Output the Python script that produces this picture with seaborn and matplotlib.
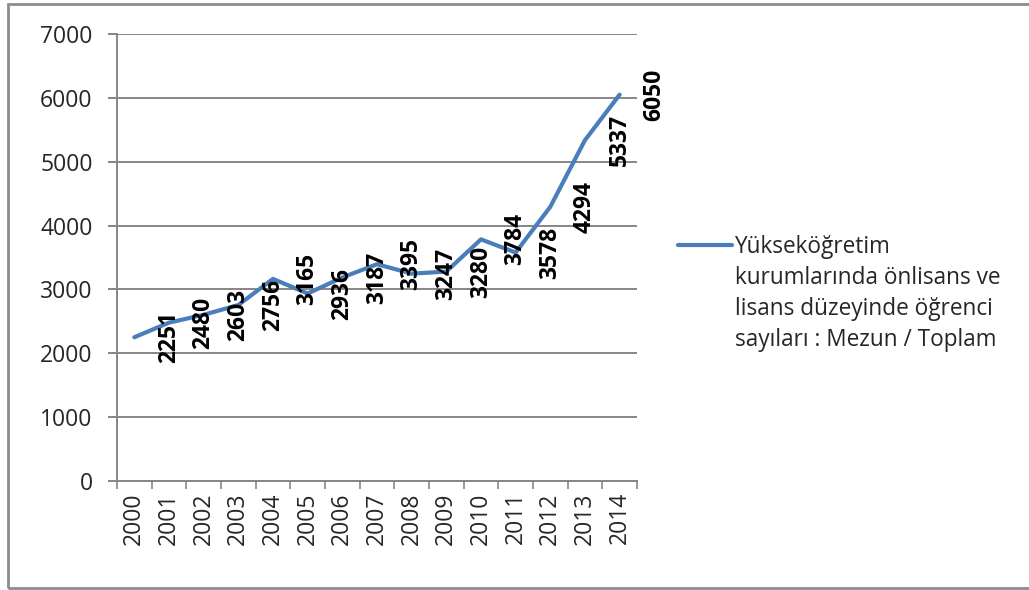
import pandas as pd
import seaborn as sns
import matplotlib.pyplot as plt
from matplotlib.patches import Rectangle

years = ['2000', '2001', '2002', '2003', '2004', '2005', '2006', '2007',
         '2008', '2009', '2010', '2011', '2012', '2013', '2014']
values = [2251, 2480, 2603, 2756, 3165, 2936, 3187, 3395,
          3247, 3280, 3784, 3578, 4294, 5337, 6050]
series_name = 'Yükseköğretim\nkurumlarında önlisans ve\nlisans düzeyinde öğrenci\nsayıları : Mezun / Toplam'
y_ticks = [0, 1000, 2000, 3000, 4000, 5000, 6000, 7000]

df = pd.DataFrame({'year': years, 'value': values})

sns.set_style('white')
plt.rcParams['font.family'] = ['Open Sans', 'DejaVu Sans']

fig = plt.figure(figsize=(10.29, 5.90), dpi=100)
ax = fig.add_axes([0.1137, 0.1847, 0.5053, 0.7577])

# cerceve
fig.patches.append(Rectangle((0.008, 0.003), 1.2, 0.99, transform=fig.transFigure,
                             fill=False, edgecolor='#8c8c8c', lw=2))

blue = '#4a7ebb'
sns.lineplot(data=df, x='year', y='value', ax=ax, color=blue, lw=3, sort=False,
             label=series_name)

# etiketler bir kategori saga kayik (orijinaldeki gibi)
for i, v in enumerate(values):
    ax.annotate(str(v), xy=(i + 1, v), rotation=90, ha='center', va='center',
                fontsize=16.5, fontweight='bold', color='black', annotation_clip=False)

ax.set_xlim(-0.5, len(years) - 0.5)
ax.set_ylim(0, 7000)
ax.set_yticks(y_ticks)
ax.set_xticks(range(len(years)))
ax.set_xticklabels(years, rotation=90)
ax.set_xticks([k - 0.5 for k in range(len(years) + 1)], minor=True)
ax.set_xlabel('')
ax.set_ylabel('')

ax.grid(axis='y', color='#868686', lw=1.4)
ax.set_axisbelow(True)
for s in ['top', 'right']:
    ax.spines[s].set_visible(False)
for s in ['left', 'bottom']:
    ax.spines[s].set_color('#868686')
    ax.spines[s].set_linewidth(1.4)

ax.tick_params(axis='y', which='major', left=True, length=6.5, width=1.4, color='#868686',
               pad=11, labelsize=16.5)
ax.tick_params(axis='x', which='major', bottom=False, length=0, pad=8, labelsize=16.5)
ax.tick_params(axis='x', which='minor', bottom=True, length=6, width=1.2, color='#868686')

leg = ax.legend(loc='center left', bbox_to_anchor=(0.650, 0.5025), bbox_transform=fig.transFigure,
                frameon=False, fontsize=16.3, handlelength=2.4, handletextpad=0.1,
                borderaxespad=0)
leg.get_texts()[0].set_linespacing(1.4)
# cizgi ilk satir hizasinda dursun
h = leg.legend_handles[0]
h.set_ydata([y + 35.5 for y in h.get_ydata()])

fig.savefig('out.png', dpi=100)
